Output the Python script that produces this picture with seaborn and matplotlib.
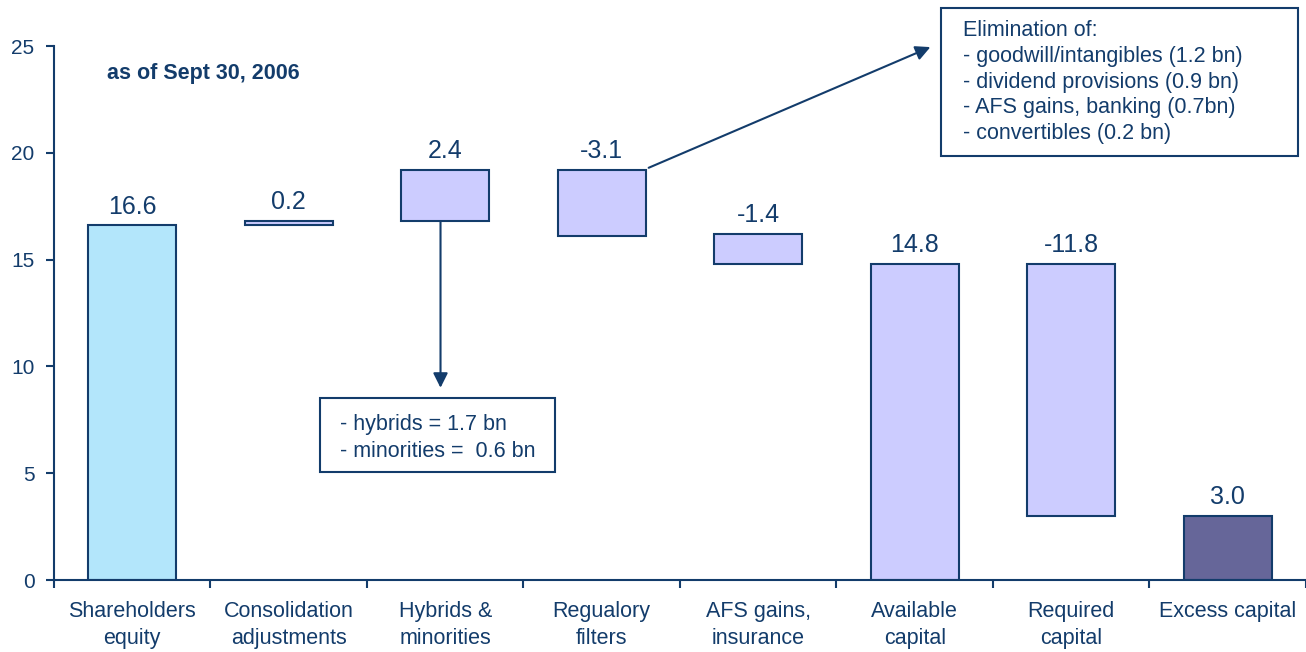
import matplotlib
matplotlib.use('Agg')
import matplotlib.pyplot as plt
import matplotlib.patches as mpatches
import seaborn as sns
import numpy as np

# Waterfall data (bn)
categories = ['Shareholders\nequity', 'Consolidation\nadjustments', 'Hybrids &\nminorities',
              'Regualory\nfilters', 'AFS gains,\ninsurance', 'Available\ncapital',
              'Required\ncapital', 'Excess capital']
value_labels = ['16.6', '0.2', '2.4', '-3.1', '-1.4', '14.8', '-11.8', '3.0']
bar_low = [0.0, 16.6, 16.8, 16.1, 14.8, 0.0, 3.0, 0.0]
bar_high = [16.6, 16.8, 19.2, 19.2, 16.2, 14.8, 14.8, 3.0]

hybrid_notes = ['- hybrids = 1.7 bn', '- minorities =  0.6 bn']
filter_notes = ['Elimination of:', '- goodwill/intangibles (1.2 bn)', '- dividend provisions (0.9 bn)',
                '- AFS gains, banking (0.7bn)', '- convertibles (0.2 bn)']

NAVY = '#133C6B'
LIGHT_BLUE = '#B3E6FB'
LAVENDER = '#CCCCFF'
DARK_PURPLE = '#666699'
bar_colors = [LIGHT_BLUE] + [LAVENDER] * 6 + [DARK_PURPLE]

sns.set_theme(style='white')
plt.rcParams['font.family'] = ['Liberation Sans', 'DejaVu Sans']
plt.rcParams['text.color'] = NAVY

fig = plt.figure(figsize=(13.06, 6.52), dpi=100)
ax = fig.add_axes([0.0413, 0.1104, 0.9587, 0.819])

heights = np.array(bar_high) - np.array(bar_low)
sns.barplot(x=categories, y=heights, bottom=bar_low, width=0.56, ax=ax,
            color=LAVENDER, saturation=1, edgecolor=NAVY, linewidth=1.5)
for patch, c in zip(ax.patches, bar_colors):
    patch.set_facecolor(c)
    patch.set_edgecolor(NAVY)

ax.set_xlim(-0.5, 7.5)
ax.set_ylim(0, 25)
ax.set_yticks([0, 5, 10, 15, 20, 25])
ax.set_xlabel('')
ax.set_ylabel('')

sns.despine(ax=ax)
for side in ['left', 'bottom']:
    ax.spines[side].set_color(NAVY)
    ax.spines[side].set_linewidth(1.5)

# category ticks sit between the bars
ax.set_xticks(np.arange(-0.5, 8.0, 1.0), minor=True)
ax.tick_params(axis='x', which='major', length=0, labelsize=15.5, labelcolor=NAVY, pad=15)
ax.tick_params(axis='x', which='minor', length=6, width=1.5, color=NAVY, direction='out', bottom=True)
ax.tick_params(axis='y', length=6, width=1.5, color=NAVY, direction='out', left=True,
               labelsize=15, labelcolor=NAVY, pad=8)
for lab in ax.get_xticklabels():
    lab.set_linespacing(1.4)

# value labels above each bar
for i, lab in enumerate(value_labels):
    ax.annotate(lab, (i, max(bar_low[i], bar_high[i])), xytext=(0, 5),
                textcoords='offset points', ha='center', va='bottom',
                fontsize=18, color=NAVY)

ax.text(-0.16, 23.7, 'as of Sept 30, 2006', fontsize=15.5, fontweight='bold',
        color=NAVY, va='center', ha='left')

# hybrids note
ax.annotate('', xy=(1.97, 9.0), xytext=(1.97, 16.8),
            arrowprops=dict(arrowstyle='-|>', color=NAVY, lw=1.5, mutation_scale=22,
                            shrinkA=0, shrinkB=0))
ax.add_patch(mpatches.Rectangle((1.20, 5.06), 1.50, 3.46, fill=False,
                                edgecolor=NAVY, lw=1.5, clip_on=False))
ax.text(1.33, 7.76, '\n'.join(hybrid_notes), fontsize=15.5, color=NAVY,
        va='top', ha='left', linespacing=1.34)

# regulatory filters note
ax.annotate('', xy=(5.10, 24.95), xytext=(3.30, 19.3),
            arrowprops=dict(arrowstyle='-|>', color=NAVY, lw=1.5, mutation_scale=22,
                            shrinkA=0, shrinkB=0), annotation_clip=False)
ax.add_patch(mpatches.Rectangle((5.17, 19.85), 2.28, 6.95, fill=False,
                                edgecolor=NAVY, lw=1.5, clip_on=False))
ax.text(5.31, 26.2, '\n'.join(filter_notes), fontsize=15.5, color=NAVY,
        va='top', ha='left', linespacing=1.29)

fig.savefig('out.png', dpi=100)
